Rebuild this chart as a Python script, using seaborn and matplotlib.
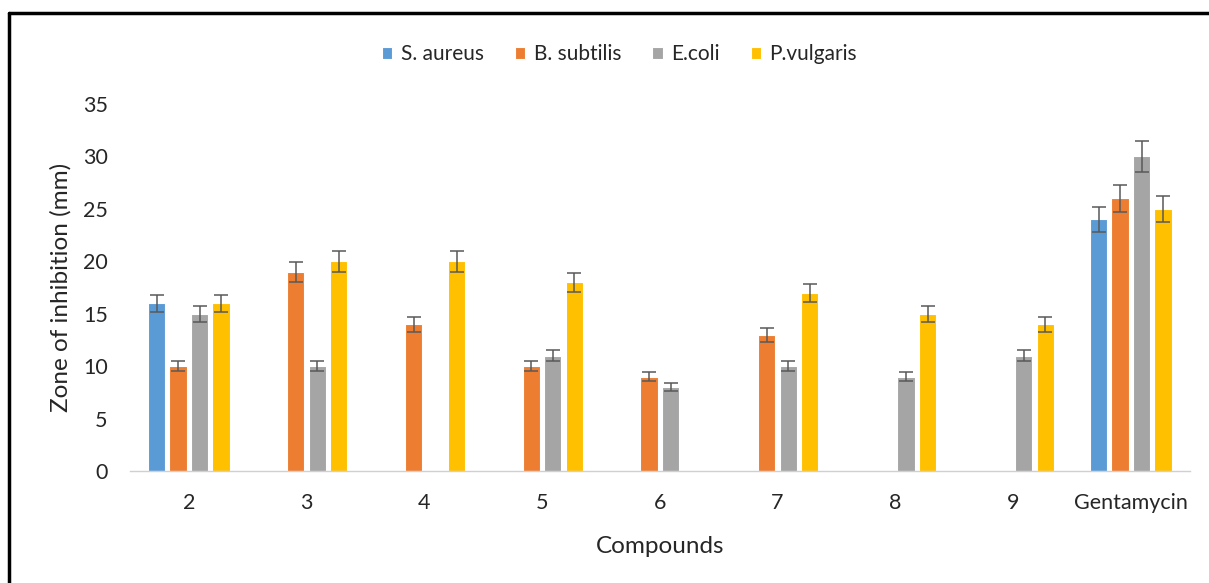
import numpy as np
import pandas as pd
import matplotlib
matplotlib.use("Agg")
import matplotlib.pyplot as plt
from matplotlib.lines import Line2D
from matplotlib.container import BarContainer
import seaborn as sns

compounds = ["2", "3", "4", "5", "6", "7", "8", "9", "Gentamycin"]
s_aureus = [16, np.nan, np.nan, np.nan, np.nan, np.nan, np.nan, np.nan, 24]
b_subtilis = [10, 19, 14, 10, 9, 13, np.nan, np.nan, 26]
e_coli = [15, 10, np.nan, 11, 8, 10, 9, 11, 30]
p_vulgaris = [16, 20, 20, 18, np.nan, 17, 15, 14, 25]
strains = ["S. aureus", "B. subtilis", "E.coli", "P.vulgaris"]
colors = ["#5B9BD5", "#ED7D31", "#A5A5A5", "#FFC000"]
err_pct = 0.05  # percentage error bars

df = pd.DataFrame({
    "Compound": compounds * 4,
    "Strain": np.repeat(strains, len(compounds)),
    "Zone": s_aureus + b_subtilis + e_coli + p_vulgaris,
}).dropna()

sns.set_theme(style="white")
plt.rcParams["font.family"] = ["Lato", "DejaVu Sans"]

fig = plt.figure(figsize=(12.09, 5.83), dpi=100)
ax = fig.add_axes([0.1075, 0.192, 0.8765, 0.6296])

sns.barplot(data=df, x="Compound", y="Zone", hue="Strain", order=compounds,
            hue_order=strains, palette=colors, width=0.73, gap=0.2,
            errorbar=None, edgecolor="white", linewidth=0.8, ax=ax,
            saturation=1)

# percentage error bars on each drawn bar
bar_containers = [c for c in ax.containers if isinstance(c, BarContainer)]
for cont in bar_containers:
    for p in cont.patches:
        h = p.get_height()
        if np.isnan(h) or h == 0:
            continue
        xc = p.get_x() + p.get_width() / 2
        ax.errorbar(xc, h, yerr=h * err_pct, fmt="none", ecolor="#595959",
                    elinewidth=1.1, capsize=5, capthick=1.1, zorder=5)

ax.set_ylim(0, 35)
ax.set_xlim(-0.5, len(compounds) - 0.5)
ax.set_yticks(np.arange(0, 36, 5))
ax.tick_params(axis="y", length=0, labelsize=15.5, colors="#262626", pad=16)
ax.tick_params(axis="x", which="major", length=0, labelsize=15.5,
               colors="#262626", pad=16)
ax.set_xticks(np.arange(-0.5, len(compounds), 1.0), minor=True)
ax.tick_params(axis="x", which="minor", length=7, color="#BFBFBF", width=1,
               direction="out")

for side in ["left", "right", "top"]:
    ax.spines[side].set_visible(False)
ax.spines["bottom"].set_color("#D0D0D0")
ax.spines["bottom"].set_linewidth(1)

ax.set_xlabel("Compounds", fontsize=17.5, color="#262626", labelpad=16)
ax.set_ylabel("Zone of inhibition (mm)", fontsize=17.5, color="#262626",
              labelpad=8)

ax.legend(loc="lower center", bbox_to_anchor=(0.462, 1.058), ncol=4,
          frameon=False, fontsize=15, handlelength=0.5, handleheight=0.5,
          handletextpad=0.4, columnspacing=1.5, labelcolor="#262626")

# border lines along the top and left of the figure
fig.add_artist(Line2D([0.0074, 1.0], [0.978, 0.978], color="black",
                      linewidth=2.5, transform=fig.transFigure))
fig.add_artist(Line2D([0.0074, 0.0074], [0.0, 0.978], color="black",
                      linewidth=2.5, transform=fig.transFigure))

fig.savefig("out.png", dpi=100, facecolor="white")
